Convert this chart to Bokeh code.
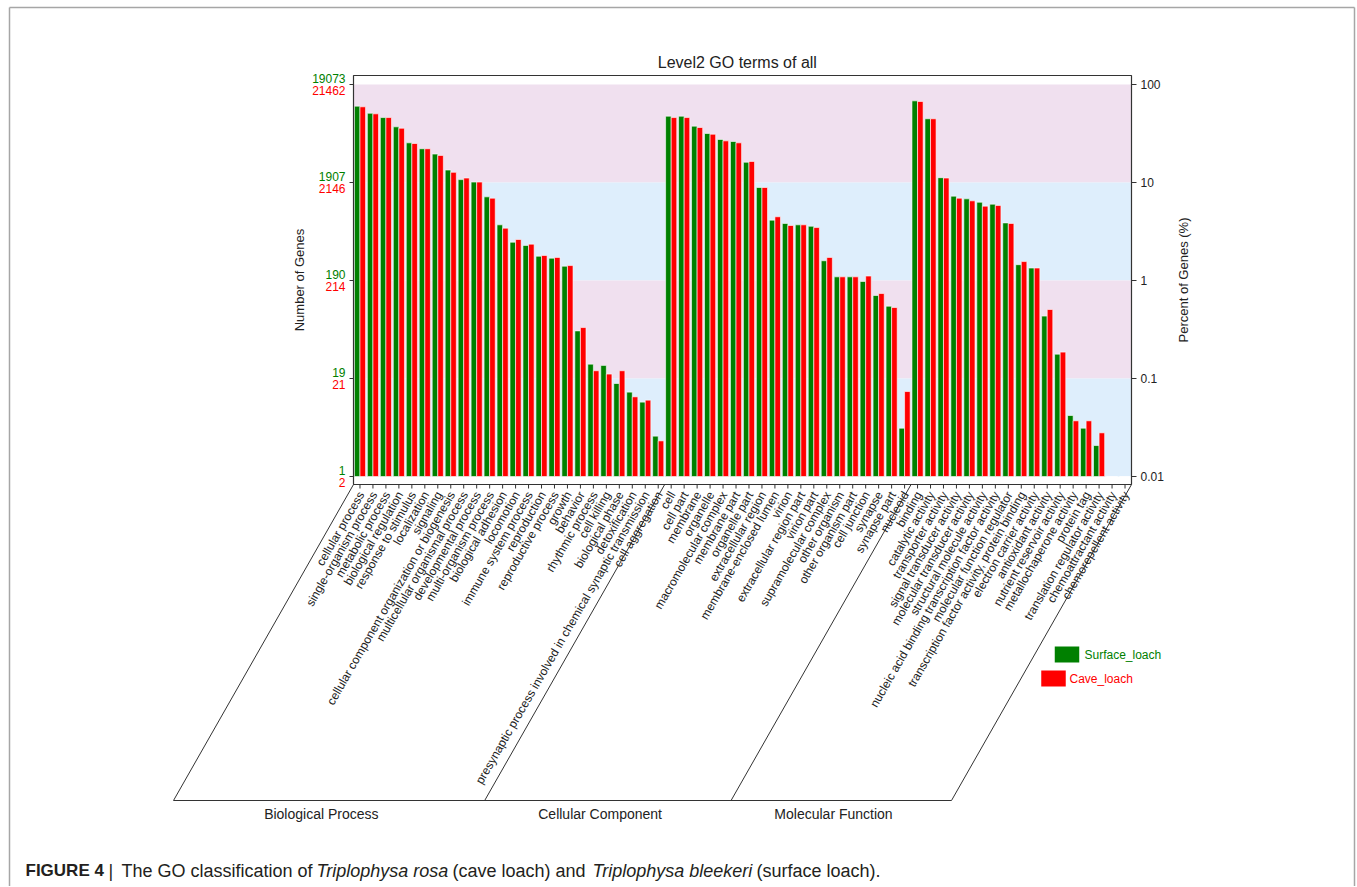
import math
from bokeh.plotting import figure
from bokeh.models import Range1d, LogScale, ColumnDataSource
from bokeh.transform import dodge
from bokeh.embed import file_html
from bokeh.resources import INLINE
from bokeh.core.properties import value

FONT = "Liberation Sans"
GREEN = "#008000"
RED = "#FF0000"
PINK = "#F0E0EF"
BLUE = "#DEEEFC"
INK = "#222222"
LINE = "#333333"

# ---------------- data (percent of genes) ----------------
bp_terms = ["cellular process", "single-organism process", "metabolic process",
            "biological regulation", "response to stimulus", "localization", "signaling",
            "cellular component organization or biogenesis", "multicellular organismal process",
            "developmental process", "multi-organism process", "biological adhesion",
            "locomotion", "immune system process", "reproduction", "reproductive process",
            "growth", "behavior", "rhythmic process", "cell killing", "biological phase",
            "detoxification", "presynaptic process involved in chemical synaptic transmission",
            "cell aggregation"]
bp_surface = [60.1, 50.9, 46.0, 37.0, 25.4, 22.1, 19.5, 13.4, 10.7, 10.1, 7.14, 3.70,
              2.46, 2.28, 1.77, 1.69, 1.40, 0.306, 0.140, 0.136, 0.0889, 0.0726, 0.0574, 0.0258]
bp_cave = [59.2, 50.2, 46.0, 35.8, 25.0, 22.1, 18.9, 12.7, 11.1, 10.1, 6.92, 3.42,
           2.62, 2.35, 1.80, 1.72, 1.42, 0.331, 0.120, 0.111, 0.120, 0.065, 0.0601, 0.0231]

cc_terms = ["cell", "cell part", "membrane", "organelle", "macromolecular complex",
            "membrane part", "organelle part", "extracellular region", "membrane-enclosed lumen",
            "virion", "extracellular region part", "virion part", "supramolecular complex",
            "other organism", "other organism part", "cell junction", "synapse", "synapse part",
            "nucleoid"]
cc_surface = [47.5, 47.5, 37.6, 31.6, 27.5, 26.2, 16.1, 8.89, 4.13, 3.82, 3.70, 3.58,
              1.59, 1.09, 1.09, 0.977, 0.703, 0.547, 0.0311]
cc_cave = [46.0, 46.0, 36.4, 31.1, 26.6, 25.4, 16.4, 8.89, 4.47, 3.64, 3.70, 3.47,
           1.72, 1.09, 1.09, 1.11, 0.736, 0.530, 0.0736]

mf_terms = ["binding", "catalytic activity", "transporter activity", "signal transducer activity",
            "molecular transducer activity", "structural molecule activity",
            "nucleic acid binding transcription factor activity", "molecular function regulator",
            "transcription factor activity, protein binding", "electron carrier activity",
            "antioxidant activity", "nutrient reservoir activity", "metallochaperone activity",
            "protein tag", "translation regulator activity", "chemoattractant activity",
            "chemorepellent activity"]
mf_surface = [68.1, 44.7, 11.2, 7.26, 6.81, 6.29, 6.01, 3.87, 1.45, 1.34, 0.433, 0.177,
              0.0419, 0.0311, 0.0207, 0.01, 0.01]
mf_cave = [67.1, 44.7, 11.1, 6.92, 6.50, 5.74, 5.82, 3.82, 1.56, 1.34, 0.506, 0.186,
           0.0370, 0.0370, 0.0279, 0.01, 0.01]

groups = ["Biological Process", "Cellular Component", "Molecular Function"]
series_names = ["Surface_loach", "Cave_loach"]
tick_pct = [100, 10, 1, 0.1, 0.01]
tick_pct_labels = ["100", "10", "1", "0.1", "0.01"]
surface_counts = ["19073", "1907", "190", "19", "1"]
cave_counts = ["21462", "2146", "214", "21", "2"]
band_lo = [10, 1, 0.1, 0.01]
band_hi = [100, 10, 1, 0.1]
band_col = [PINK, BLUE, PINK, BLUE]
title_text = "Level2 GO terms of all"
left_title = "Number of Genes"
right_title = "Percent of Genes (%)"
caption_parts = ["FIGURE 4", "|", "The GO classification of", "Triplophysa rosa",
                 "(cave loach) and", "Triplophysa bleekeri", "(surface loach)."]
caption_styles = ["bold", "normal", "normal", "italic", "normal", "italic", "normal"]
caption_x_px = [25, 108, 121, 316, 452, 592, 756]

terms = bp_terms + cc_terms + mf_terms
surface = bp_surface + cc_surface + mf_surface
cave = bp_cave + cc_cave + mf_cave
n = len(terms)
sizes = [len(bp_terms), len(cc_terms), len(mf_terms)]
bounds = [0]
for s in sizes:
    bounds.append(bounds[-1] + s)

# ---------------- page geometry (pixels) ----------------
W, H = 1356, 886
PLOT_LEFT, PLOT_W = 353, 778          # plot box, horizontally
PLOT_TOP, PLOT_BOTTOM = 75, 484       # plot box, vertically
Y100, DEC = 84, 98                    # pixel of 100 % and height of one decade
cat = PLOT_W / n                      # pixels per category
SLANT = 180 / cat                     # horizontal run of the slanted group lines
GROUP_BOTTOM = 800
BASE = 0.01


def px2x(px):
    return (px - PLOT_LEFT) / cat


log_lo = 10 ** (-2 - (H - (Y100 + 4 * DEC)) / DEC)
log_hi = 10 ** (2 + Y100 / DEC)

p = figure(frame_width=W, frame_height=H, min_border=0,
           x_range=Range1d(-PLOT_LEFT / cat, (W - PLOT_LEFT) / cat),
           y_range=Range1d(H, 0),
           extra_y_ranges={"log": Range1d(log_lo, log_hi)},
           extra_y_scales={"log": LogScale()},
           x_axis_location=None, y_axis_location=None,
           output_backend="svg", toolbar_location=None)
p.outline_line_color = None
p.grid.visible = False
p.background_fill_color = "white"
p.border_fill_color = "white"

# outer gray frame of the figure panel
p.segment(x0=[px2x(9), px2x(9), px2x(1354)], y0=[7, 7, 7],
          x1=[px2x(1354), px2x(9), px2x(1354)], y1=[7, H, H],
          line_color="#A6A6A6", line_width=1.5)

# background bands
p.quad(left=0, right=n, bottom=band_lo, top=band_hi, fill_color=band_col,
       line_color=None, y_range_name="log")

# bars
src = ColumnDataSource(dict(x=[i + 0.5 for i in range(n)], surface=surface, cave=cave))
p.vbar(x=dodge("x", -0.215, range=p.x_range), top="surface", bottom=BASE, width=0.43,
       source=src, fill_color=GREEN, line_color="white", line_width=0.6, y_range_name="log")
p.vbar(x=dodge("x", 0.215, range=p.x_range), top="cave", bottom=BASE, width=0.43,
       source=src, fill_color=RED, line_color="white", line_width=0.6, y_range_name="log")

# plot box
p.quad(left=[0], right=[n], top=[PLOT_TOP], bottom=[PLOT_BOTTOM], fill_color=None,
       line_color=LINE, line_width=1.2)

# left axis: ticks, two-coloured count labels, title
k = len(tick_pct)
p.segment(x0=[-4 / cat] * k, x1=[0] * k, y0=tick_pct, y1=tick_pct, line_color=LINE,
          y_range_name="log")
p.text(x=[px2x(345)] * k, y=tick_pct, text=surface_counts, y_offset=-6.5,
       text_align="right", text_baseline="middle", text_color=GREEN,
       text_font=value(FONT), text_font_size="12px", y_range_name="log")
p.text(x=[px2x(345)] * k, y=tick_pct, text=cave_counts, y_offset=6,
       text_align="right", text_baseline="middle", text_color=RED,
       text_font=value(FONT), text_font_size="12px", y_range_name="log")
p.text(x=[px2x(299)], y=[(PLOT_TOP + PLOT_BOTTOM) / 2], text=[left_title], angle=math.pi / 2,
       text_align="center", text_baseline="middle", text_color=INK,
       text_font=value(FONT), text_font_size="13px")

# right axis
p.segment(x0=[n] * k, x1=[n + 5 / cat] * k, y0=tick_pct, y1=tick_pct, line_color=LINE,
          y_range_name="log")
p.text(x=[n + 9 / cat] * k, y=tick_pct, text=tick_pct_labels, text_align="left",
       text_baseline="middle", text_color=INK, text_font=value(FONT),
       text_font_size="12px", y_range_name="log")
p.text(x=[px2x(1183)], y=[(PLOT_TOP + PLOT_BOTTOM) / 2], text=[right_title], angle=math.pi / 2,
       text_align="center", text_baseline="middle", text_color=INK,
       text_font=value(FONT), text_font_size="13px")

# title
p.text(x=[n / 2 - 0.4], y=[62], text=[title_text], text_align="center",
       text_baseline="middle", text_color=INK, text_font=value(FONT), text_font_size="16px")

# bottom category ticks and rotated labels
xc = [i + 0.5 for i in range(n)]
p.segment(x0=xc, y0=[PLOT_BOTTOM] * n, x1=xc, y1=[PLOT_BOTTOM + 4] * n, line_color=LINE)
p.text(x=[x + 0.1 for x in xc], y=[PLOT_BOTTOM + 8] * n, text=terms, angle=math.pi / 3,
       text_align="right", text_baseline="middle", text_font=value(FONT),
       text_font_size="12px", text_color=INK)

# slanted group frame
p.segment(x0=bounds, y0=[PLOT_BOTTOM] * len(bounds), x1=[b - SLANT for b in bounds],
          y1=[GROUP_BOTTOM] * len(bounds), line_color=LINE, line_width=1)
p.segment(x0=[bounds[0] - SLANT], y0=[GROUP_BOTTOM], x1=[bounds[-1] - SLANT],
          y1=[GROUP_BOTTOM], line_color=LINE, line_width=1)
gx = [(bounds[i] + bounds[i + 1]) / 2 - SLANT - 0.6 for i in range(len(groups))]
p.text(x=gx, y=[GROUP_BOTTOM + 13] * len(groups), text=groups, text_align="center",
       text_baseline="middle", text_font=value(FONT), text_font_size="14px", text_color=INK)

# legend
p.rect(x=[px2x(1066.5), px2x(1053)], y=[654, 678], width=24.5 / cat, height=16,
       fill_color=[GREEN, RED], line_color=None)
p.text(x=[px2x(1084), px2x(1069)], y=[654, 678], text=series_names,
       text_color=[GREEN, RED], text_align="left", text_baseline="middle",
       text_font=value(FONT), text_font_size="12px")

# caption
for part, style, xp in zip(caption_parts, caption_styles, caption_x_px):
    size = "17px" if style == "bold" else "18px"
    p.text(x=[px2x(xp)], y=[870], text=[part], text_align="left", text_baseline="middle",
           text_font=value(FONT), text_font_size=size, text_font_style=style,
           text_color="#231F20")

open("out.html", "w").write(file_html(p, INLINE))
